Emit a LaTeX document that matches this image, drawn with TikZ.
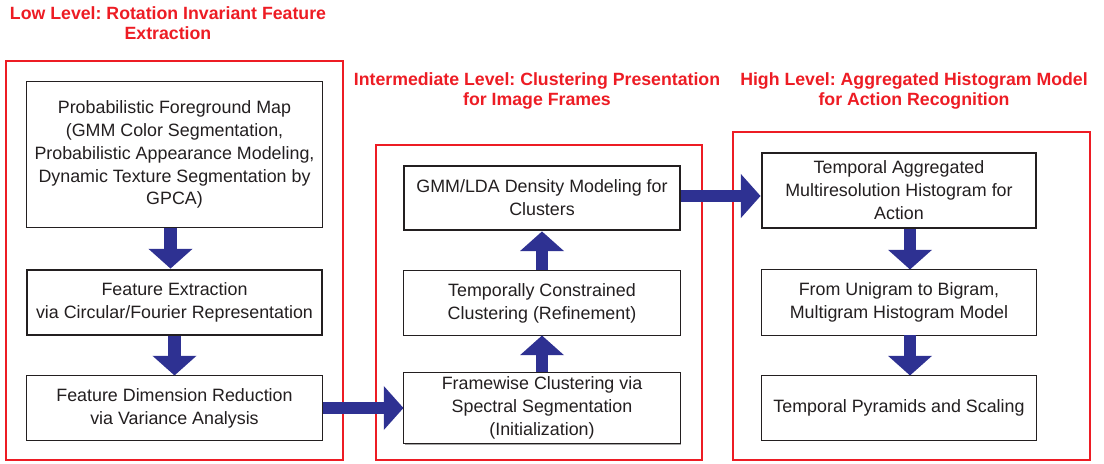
\documentclass[tikz,border=0pt]{standalone}
\usepackage{fontspec}
\setmainfont{Liberation Sans}
\frenchspacing
\usetikzlibrary{
    arrows.meta,
    calc,
    positioning,
    shadows,
}
\definecolor{lvlred}{RGB}{237,28,36}
\definecolor{flowblue}{RGB}{46,49,146}
\definecolor{inkgray}{RGB}{35,31,32}
\tikzstyle{block}=[draw=inkgray,line width=0.7pt,fill=white,align=center,text=inkgray,inner sep=1mm,font=\fontsize{12.7}{16.3}\selectfont,drop shadow={shadow xshift=1pt,shadow yshift=-1pt,fill=black!35,opacity=1}]
\tikzstyle{keyblock}=[block,line width=2pt]
\tikzstyle{level}=[draw=lvlred,line width=1.4pt]
\tikzstyle{leveltitle}=[text=lvlred,align=center,font=\bfseries\fontsize{12.6}{14.6}\selectfont]
\tikzstyle{flow}=[flowblue,line width=9.2pt,-{Triangle[length=14pt,width=30.5pt]}]

\begin{document}
\begin{tikzpicture}[x=0.025cm,y=-0.025cm]
    \useasboundingbox (0,0) rectangle (1104,464);
    % level frames
    \draw[level] (6,61) rectangle (343,460);
    \draw[level] (376,145) rectangle (702,460);
    \draw[level] (733,132) rectangle (1090,460);
    \node[leveltitle] (t1) at (168,23) {Low Level: Rotation Invariant Feature\\Extraction};
    \node[leveltitle] (t2) at (537,91) {Intermediate Level: Clustering Presentation\\for Image Frames};
    \node[leveltitle] (t3) at (914,91) {High Level: Aggregated Histogram Model\\for Action Recognition};
    % low level
    \begin{scope}[minimum width=7.375cm]
        \node[block,minimum height=3.625cm] (fgmap) at (174.5,154.5) {Probabilistic Foreground Map\\(GMM Color Segmentation,\\Probabilistic Appearance Modeling,\\Dynamic Texture Segmentation by\\GPCA)};
        \node[keyblock,minimum height=1.625cm] (featex) at (174.5,302.5) {Feature Extraction\\via Circular/Fourier Representation};
        \node[block,minimum height=1.6cm] (dimred) at (174.5,408) {Feature Dimension Reduction\\via Variance Analysis};
    \end{scope}
    % intermediate level
    \begin{scope}[minimum width=6.9cm,minimum height=1.6cm]
        \node[keyblock] (density) at (542,198) {GMM/LDA Density Modeling for\\Clusters};
        \node[block] (refine) at (542,303) {Temporally Constrained\\Clustering (Refinement)};
        \node[block] (framewise) at (542,408) {Framewise Clustering via\\Spectral Segmentation\\(Initialization)};
    \end{scope}
    % high level
    \begin{scope}[minimum width=6.85cm]
        \node[keyblock,minimum height=1.875cm] (aggr) at (899,190.5) {Temporal Aggregated\\Multiresolution Histogram for\\Action};
        \node[block,minimum height=1.625cm] (gram) at (899,302.5) {From Unigram to Bigram,\\Multigram Histogram Model};
        \node[block,minimum height=1.6cm] (pyramid) at (899,408) {Temporal Pyramids and Scaling};
    \end{scope}
    % flow arrows
    \draw[flow] ([xshift=-0.1cm]fgmap.south) -- ([xshift=-0.1cm]featex.north);
    \draw[flow] (featex.south) -- (dimred.north);
    \draw[flow] (dimred.east) -- (dimred.east -| framewise.west);
    \draw[flow] (framewise.north) -- (refine.south);
    \draw[flow] (refine.north) -- (density.south);
    \draw[flow] ([yshift=0.05cm]density.east) -- ([yshift=0.05cm]density.east -| aggr.west);
    \draw[flow] ([xshift=0.275cm]aggr.south) -- ([xshift=0.275cm]gram.north);
    \draw[flow] ([xshift=0.275cm]gram.south) -- ([xshift=0.275cm]pyramid.north);
\end{tikzpicture}
\end{document}
